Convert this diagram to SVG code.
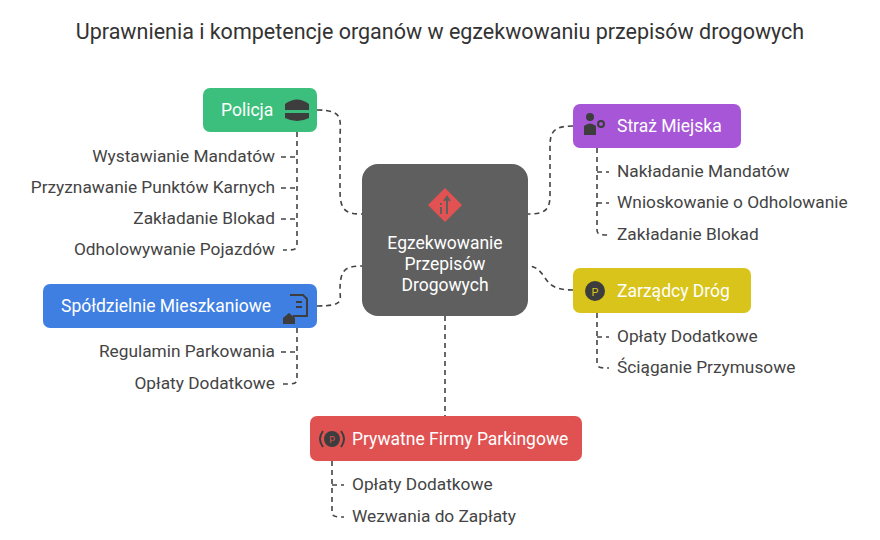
<svg xmlns="http://www.w3.org/2000/svg" width="880" height="540" viewBox="0 0 880 540">
<style>
text{font-family:Roboto,"Liberation Sans",sans-serif}
.t{font-size:21.5px;fill:#333}
.n{font-size:17.5px;fill:#fff}
.i{font-size:17.3px;fill:#444}
.c{fill:none;stroke:#444;stroke-width:1.6;stroke-dasharray:5 4}
</style>
<rect width="880" height="540" fill="#fff"/>
<text class="t" x="440" y="39" text-anchor="middle">Uprawnienia i kompetencje organów w egzekwowaniu przepisów drogowych</text>
<g id="connectors">
<path class="c" d="M317 110 C345 110 340 120 340 140 V190 C340 210 345 214 362 214"/>
<path class="c" d="M573 126 C550 126 550 135 550 150 V195 C550 210 545 214 528 214"/>
<path class="c" d="M317 306 C345 306 340 300 340 290 C340 270 345 266 362 266"/>
<path class="c" d="M573 290 C555 290 550 285 545 278 C540 270 535 266 528 266"/>
<path class="c" d="M445 316 V416"/>
<path class="c" d="M297 132 V245 C297 250 293 250 283 250 M281 157 H297 M281 188 H297 M281 219 H297"/>
<path class="c" d="M597 148 V230 C597 235 601 235 609 235 M597 172 H609 M597 203 H609"/>
<path class="c" d="M597 313 V363 C597 368 601 368 609 368 M597 337 H609"/>
<path class="c" d="M297 328 V379 C297 384 293 384 283 384 M281 352 H297"/>
<path class="c" d="M332 461 V512 C332 517 336 517 344 517 M332 485 H344"/>
</g>
<g id="center">
<rect x="362" y="164" width="166" height="152" rx="16" fill="#5f5f5f"/>
<rect x="433" y="193" width="24" height="24" fill="#e25252" transform="rotate(45 445 205)"/>
<path d="M447 214 V198 M444 201 L447 197 L450 201 M441 207 V214 M441 203 V205" stroke="#5f5f5f" stroke-width="2" fill="none"/>
<text class="n" x="445" y="249" text-anchor="middle">Egzekwowanie</text>
<text class="n" x="445" y="270" text-anchor="middle">Przepisów</text>
<text class="n" x="445" y="291" text-anchor="middle">Drogowych</text>
</g>
<g id="policja">
<rect x="203" y="88" width="114" height="44" rx="7" fill="#3cbf7c"/>
<text class="n" x="221" y="116">Policja</text>
<path d="M285 104 Q297 95 309 104 V110 H285 Z M285 113 H309 V118 Q297 124 285 118 Z" fill="#3d3d3d"/>
<text class="i" x="275" y="162" text-anchor="end">Wystawianie Mandatów</text>
<text class="i" x="275" y="193" text-anchor="end">Przyznawanie Punktów Karnych</text>
<text class="i" x="275" y="224" text-anchor="end">Zakładanie Blokad</text>
<text class="i" x="275" y="255" text-anchor="end">Odholowywanie Pojazdów</text>
</g>
<g id="straz">
<rect x="573" y="104" width="168" height="44" rx="7" fill="#a656d6"/>
<circle cx="590" cy="117" r="4" fill="#3d3d3d"/>
<path d="M584 135 V126 Q590 121 596 126 V135 Z" fill="#3d3d3d"/>
<circle cx="601" cy="124" r="3" fill="none" stroke="#3d3d3d" stroke-width="2"/>
<text class="n" x="617" y="132">Straż Miejska</text>
<text class="i" x="617" y="177">Nakładanie Mandatów</text>
<text class="i" x="617" y="208">Wnioskowanie o Odholowanie</text>
<text class="i" x="617" y="240">Zakładanie Blokad</text>
</g>
<g id="zarzadcy">
<rect x="573" y="268" width="178" height="45" rx="7" fill="#d8c41a"/>
<circle cx="595" cy="291" r="10" fill="#3d3d3d"/>
<text x="595" y="296" font-size="11" fill="#d8c41a" text-anchor="middle">P</text>
<text class="n" x="617" y="297">Zarządcy Dróg</text>
<text class="i" x="617" y="342">Opłaty Dodatkowe</text>
<text class="i" x="617" y="373">Ściąganie Przymusowe</text>
</g>
<g id="spoldzielnie">
<rect x="43" y="284" width="274" height="44" rx="7" fill="#3f7fe2"/>
<text class="n" x="61" y="312">Spółdzielnie Mieszkaniowe</text>
<path d="M290 295 H303 L307 299 V316 H293" fill="none" stroke="#3d3d3d" stroke-width="2"/>
<path d="M296 302 H302 M296 307 H302" stroke="#3d3d3d" stroke-width="2"/>
<path d="M283 318 L289 313 L295 318 V324 H283 Z" fill="#3d3d3d"/>
<text class="i" x="275" y="357" text-anchor="end">Regulamin Parkowania</text>
<text class="i" x="275" y="389" text-anchor="end">Opłaty Dodatkowe</text>
</g>
<g id="prywatne">
<rect x="310" y="416" width="272" height="45" rx="7" fill="#e05252"/>
<circle cx="332" cy="439" r="8" fill="#3d3d3d"/>
<text x="332" y="443" font-size="9" fill="#e05252" text-anchor="middle">P</text>
<path d="M323 431 Q317 439 323 447 M341 431 Q347 439 341 447" fill="none" stroke="#3d3d3d" stroke-width="2"/>
<text class="n" x="352" y="445">Prywatne Firmy Parkingowe</text>
<text class="i" x="352" y="490">Opłaty Dodatkowe</text>
<text class="i" x="352" y="522">Wezwania do Zapłaty</text>
</g>
</svg>
